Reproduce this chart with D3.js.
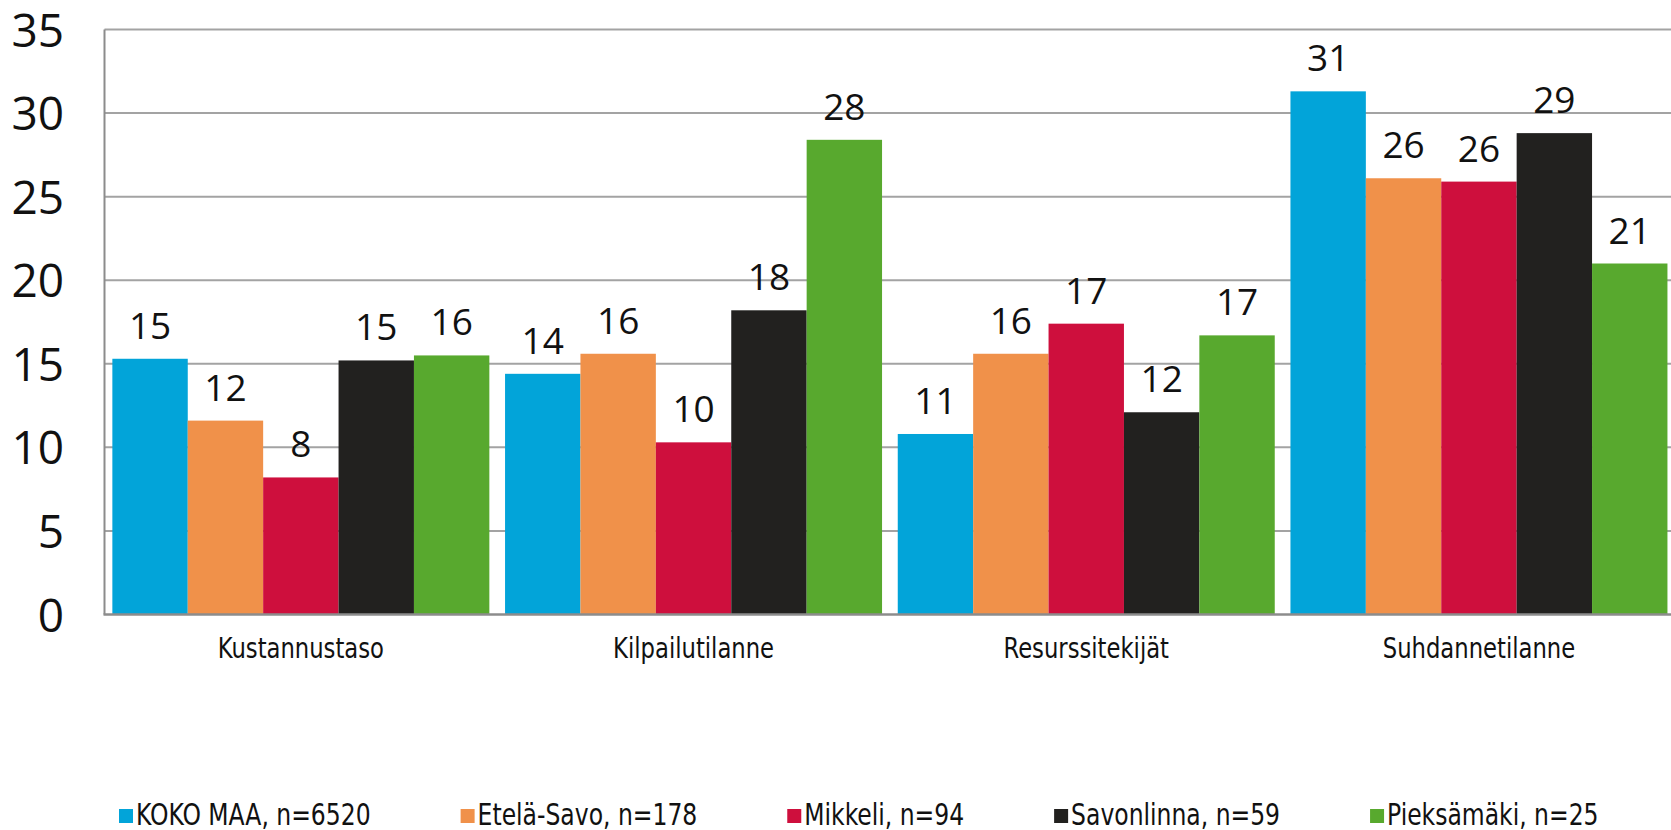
<!DOCTYPE html>
<html>
<head>
<meta charset="utf-8">
<script src="https://cdn.jsdelivr.net/npm/d3@7"></script>
<style>
  body { margin: 0; background: #fff; }
  svg { display: block; }
</style>
</head>
<body>
<div id="chart"></div>
<script>
// Categories and series
const categories = ["Kustannustaso", "Kilpailutilanne", "Resurssitekijät", "Suhdannetilanne"];
const seriesNames = ["KOKO MAA, n=6520", "Etelä-Savo, n=178", "Mikkeli, n=94", "Savonlinna, n=59", "Pieksämäki, n=25"];
const seriesColors = ["#02a4d9", "#f0914a", "#ce0f3d", "#22211f", "#58a92e"];

// values per series, in category order
const kokoMaa = [15.3, 14.4, 10.8, 31.3];
const etelaSavo = [11.6, 15.6, 15.6, 26.1];
const mikkeli = [8.2, 10.3, 17.4, 25.9];
const savonlinna = [15.2, 18.2, 12.1, 28.8];
const pieksamaki = [15.5, 28.4, 16.7, 21.0];
const seriesValues = [kokoMaa, etelaSavo, mikkeli, savonlinna, pieksamaki];

const yTicks = [0, 5, 10, 15, 20, 25, 30, 35];

const W = 1671, H = 830;
const plotLeft = 104.5, plotTop = 29.5, plotBottom = 614.5;
const groupStep = 392.7;
const narrow = 0.87; // horizontal squeeze to mimic a narrow face

const svg = d3.select("#chart").append("svg")
    .attr("width", W)
    .attr("height", H);

const x0 = d3.scaleBand()
    .domain(categories)
    .range([plotLeft, plotLeft + groupStep * categories.length])
    .paddingInner(0.04)
    .paddingOuter(0.02);

const x1 = d3.scaleBand()
    .domain(d3.range(seriesNames.length))
    .range([0, x0.bandwidth()]);

const y = d3.scaleLinear()
    .domain([0, 35])
    .range([plotBottom, plotTop]);

// gridlines
svg.append("g")
    .selectAll("line")
    .data(yTicks.filter(d => d > 0))
    .enter()
    .append("line")
    .attr("x1", plotLeft)
    .attr("x2", W)
    .attr("y1", d => y(d))
    .attr("y2", d => y(d))
    .attr("stroke", "#a3a3a3")
    .attr("stroke-width", 2);

// bars
const data = [];
categories.forEach((c, ci) => {
    seriesValues.forEach((vals, si) => {
        data.push({ category: c, series: si, value: vals[ci] });
    });
});

const bars = svg.append("g");
bars.selectAll("rect")
    .data(data)
    .enter()
    .append("rect")
    .attr("x", d => x0(d.category) + x1(d.series))
    .attr("width", x1.bandwidth())
    .attr("y", d => y(d.value))
    .attr("height", d => y(0) - y(d.value))
    .attr("fill", d => seriesColors[d.series]);

// value labels
bars.selectAll("text")
    .data(data)
    .enter()
    .append("text")
    .attr("x", d => x0(d.category) + x1(d.series) + x1.bandwidth() / 2)
    .attr("y", d => y(d.value) - 20)
    .attr("text-anchor", "middle")
    .attr("font-family", "'Open Sans', 'Noto Sans', sans-serif")
    .attr("font-size", "37px")
    .attr("fill", "#111")
    .text(d => Math.round(d.value));

// axes lines
svg.append("line")
    .attr("x1", plotLeft).attr("x2", plotLeft)
    .attr("y1", plotTop).attr("y2", plotBottom)
    .attr("stroke", "#8c8c8c")
    .attr("stroke-width", 2);

svg.append("line")
    .attr("x1", plotLeft - 1).attr("x2", W)
    .attr("y1", plotBottom).attr("y2", plotBottom)
    .attr("stroke", "#8c8c8c")
    .attr("stroke-width", 2.5);

// y tick labels
svg.append("g")
    .selectAll("text")
    .data(yTicks)
    .enter()
    .append("text")
    .attr("x", 64)
    .attr("y", d => y(d) - 1)
    .attr("dominant-baseline", "central")
    .attr("text-anchor", "end")
    .attr("font-family", "'Open Sans', 'Noto Sans', sans-serif")
    .attr("font-size", "46px")
    .attr("fill", "#111")
    .text(d => d);

// category labels
svg.append("g")
    .selectAll("text")
    .data(categories)
    .enter()
    .append("text")
    .attr("transform", d => `translate(${x0(d) + x0.bandwidth() / 2},657.5) scale(${narrow},1)`)
    .attr("text-anchor", "middle")
    .attr("font-family", "'DejaVu Sans Condensed', 'Liberation Sans Narrow', sans-serif")
    .attr("font-size", "29px")
    .attr("fill", "#111")
    .text(d => d);

// legend, laid out in a row
const legend = svg.append("g");
let lx = 119;
seriesNames.forEach((name, i) => {
    legend.append("rect")
        .attr("x", lx)
        .attr("y", 809)
        .attr("width", 14)
        .attr("height", 14)
        .attr("fill", seriesColors[i]);
    const t = legend.append("text")
        .attr("transform", `translate(${lx + 17},825) scale(${narrow},1)`)
        .attr("font-family", "'DejaVu Sans Condensed', 'Liberation Sans Narrow', sans-serif")
        .attr("font-size", "30px")
        .attr("fill", "#111")
        .text(name);
    lx += 17 + t.node().getComputedTextLength() * narrow + 90;
});
</script>
</body>
</html>
